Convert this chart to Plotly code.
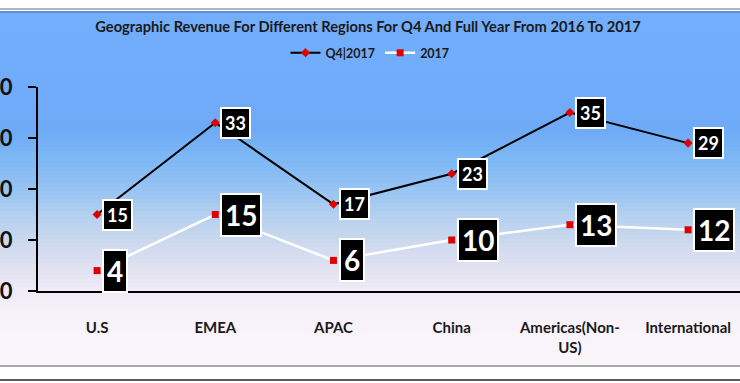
import plotly.graph_objects as go

# ---------------- data ----------------
categories = ["U.S", "EMEA", "APAC", "China", "Americas(Non-<br>US)", "International"]
q4_2017 = [15, 33, 17, 23, 35, 29]
full_2017 = [4, 15, 6, 10, 13, 12]
y_ticks = [0, 10, 20, 30, 40]
series_names = ["Q4|2017", "2017"]
title_text = "Geographic Revenue For Different Regions For Q4 And Full Year From 2016 To 2017"

# ---------------- layout geometry ----------------
W, H = 740, 383
ML, MR, MT, MB = 38, 0, 87, 92
PW, PH = W - ML - MR, H - MT - MB


def px_x(px):
    return (px - ML) / PW


def px_y(py):
    return (H - MB - py) / PH


FONT = "Lato, 'Open Sans', sans-serif"

fig = go.Figure()

fig.add_trace(go.Scatter(
    x=categories, y=q4_2017, name=series_names[0], mode="lines+markers",
    line=dict(color="#000000", width=2),
    marker=dict(symbol="diamond", size=7, color="#e00000"),
    cliponaxis=False,
))
fig.add_trace(go.Scatter(
    x=categories, y=full_2017, name=series_names[1], mode="lines+markers",
    line=dict(color="#ffffff", width=2.5),
    marker=dict(symbol="square", size=7, color="#e00000"),
    cliponaxis=False,
))

annotations = []
for cat, v in zip(categories, q4_2017):
    annotations.append(dict(
        x=cat, y=v, xref="x", yref="y", text="<b>%d</b>" % v, showarrow=False,
        xanchor="left", yanchor="middle", xshift=5,
        font=dict(family=FONT, size=18, color="#ffffff"),
        bgcolor="#000000", bordercolor="#ffffff", borderwidth=2, borderpad=3,
    ))
for cat, v in zip(categories, full_2017):
    annotations.append(dict(
        x=cat, y=v, xref="x", yref="y", text="<b>%d</b>" % v, showarrow=False,
        xanchor="left", yanchor="middle", xshift=5,
        font=dict(family=FONT, size=28, color="#ffffff"),
        bgcolor="#000000", bordercolor="#ffffff", borderwidth=2, borderpad=3,
    ))

# ---------------- background gradient ----------------
stops = [
    (11, (114, 174, 251)),
    (90, (112, 172, 250)),
    (130, (110, 170, 246)),
    (160, (126, 184, 246)),
    (190, (152, 196, 242)),
    (215, (180, 208, 239)),
    (240, (202, 216, 238)),
    (265, (223, 224, 240)),
    (290, (240, 234, 246)),
    (320, (248, 242, 250)),
    (364, (250, 245, 251)),
]


def color_at(py):
    for (y0, c0), (y1, c1) in zip(stops[:-1], stops[1:]):
        if y0 <= py <= y1:
            t = (py - y0) / (y1 - y0) if y1 > y0 else 0
            c = [round(a + (b - a) * t) for a, b in zip(c0, c1)]
            return "rgb(%d,%d,%d)" % tuple(c)
    return "rgb(%d,%d,%d)" % stops[-1][1]


shapes = []
step = 4
py = 11
while py < 364:
    y2 = min(py + step, 364)
    shapes.append(dict(
        type="rect", xref="paper", yref="paper", layer="below",
        x0=px_x(0), x1=px_x(W), y0=px_y(y2 + 0.5), y1=px_y(py),
        fillcolor=color_at(py + step / 2), line=dict(width=0),
    ))
    py = y2

# frame lines
for yy, col, wd in [(9, "#b4b4b4", 2), (12, "#5c8fd6", 2), (366, "#a8a8a8", 2), (380, "#5a5a5a", 2)]:
    shapes.append(dict(
        type="line", xref="paper", yref="paper", layer="below",
        x0=px_x(0), x1=px_x(W), y0=px_y(yy), y1=px_y(yy),
        line=dict(color=col, width=wd),
    ))

fig.update_layout(
    width=W, height=H,
    margin=dict(l=ML, r=MR, t=MT, b=MB, pad=0, autoexpand=False),
    paper_bgcolor="#ffffff",
    plot_bgcolor="rgba(0,0,0,0)",
    font=dict(family=FONT, color="#1a1a1a"),
    title=dict(
        text="<b>%s</b>" % title_text, x=368 / W, xanchor="center",
        y=1 - 27 / H, yanchor="middle", yref="container",
        font=dict(family=FONT, size=14.7, color="#1a1a1a"),
        automargin=False,
    ),
    legend=dict(
        orientation="h", x=px_x(370), xanchor="center", y=px_y(53), yanchor="middle",
        font=dict(family=FONT, size=12.5, color="#1a1a1a", weight="bold"),
        bgcolor="rgba(0,0,0,0)", itemwidth=30, tracegroupgap=0,
    ),
    showlegend=True,
    shapes=shapes,
    annotations=annotations,
    xaxis=dict(
        type="category", range=[-0.5, -0.5 + PW / 118.2], automargin=False,
        showgrid=False, zeroline=False, showline=True, linecolor="#000000", linewidth=2,
        ticks="", tickfont=dict(family=FONT, size=15, color="#1a1a1a", weight="bold"),
        ticklabelstandoff=22,
    ),
    yaxis=dict(
        range=[0, 40], tickvals=y_ticks, showgrid=False, zeroline=False, automargin=False,
        showline=True, linecolor="#000000", linewidth=2,
        ticks="outside", ticklen=8, tickwidth=2, tickcolor="#000000",
        tickfont=dict(family=FONT, size=22, color="#111111", weight="bold"),
        ticklabelstandoff=11,
    ),
)

fig.write_html(
    "out.html",
    config={"displayModeBar": False},
    post_script="document.body.style.margin='0';document.body.style.overflow='hidden';",
)
